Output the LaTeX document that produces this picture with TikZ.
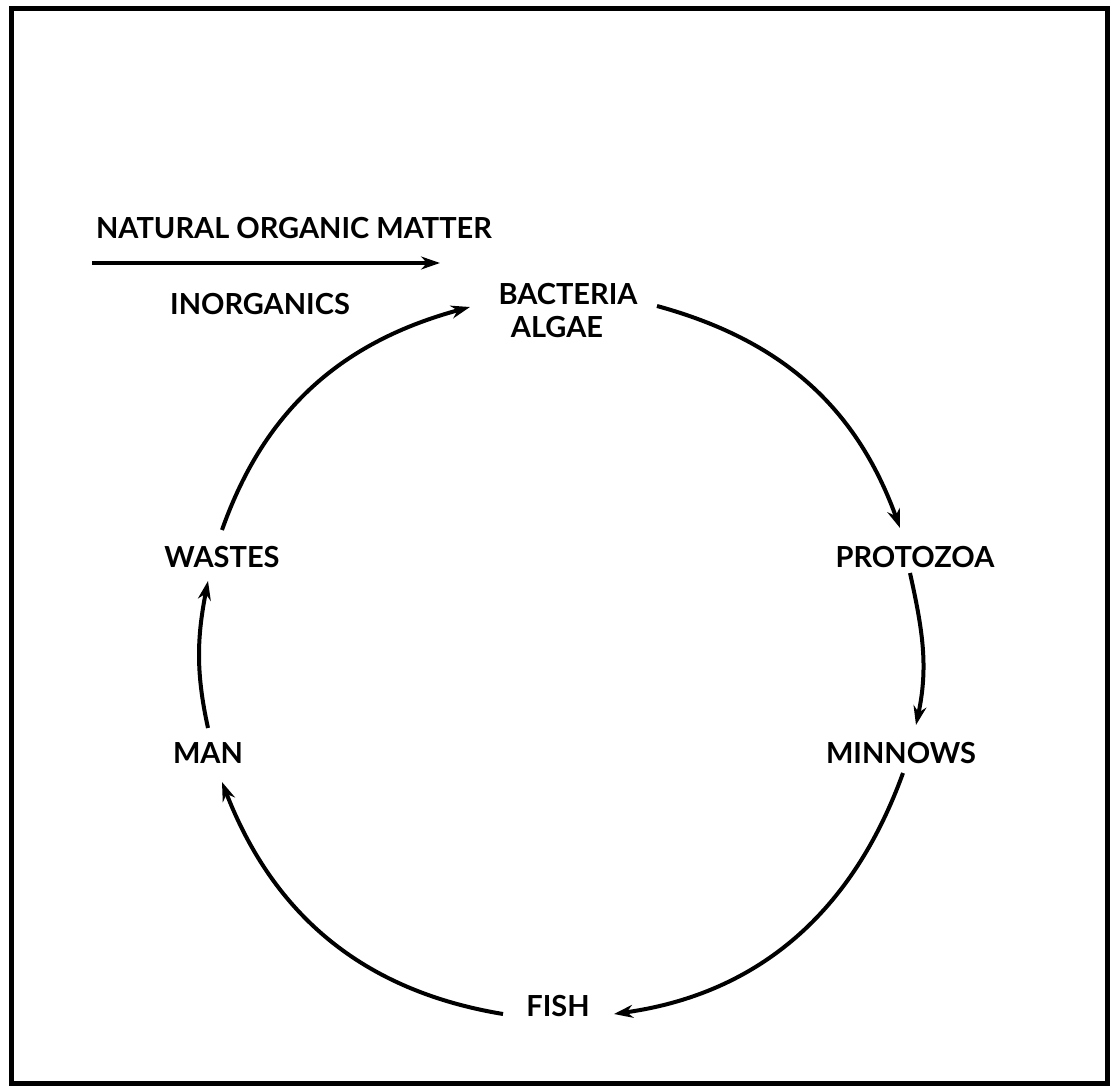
\documentclass[tikz,border=0pt]{standalone}
\usepackage{fontspec}
\setmainfont{Lato}
\usetikzlibrary{arrows.meta}
\begin{document}
\begin{tikzpicture}[x=1pt,y=-1pt,
  lbl/.style={inner sep=0pt,font=\fontsize{29}{33}\selectfont\bfseries},
  arr/.style={line width=4pt,-{Stealth[length=19pt,width=13pt]}},
  frame/.style={line width=5pt}]
\useasboundingbox (0,0) rectangle (1112,1086);
\draw[frame] (11,9) rectangle (1107,1083);
% labels
\node[lbl] (nom) at (294,228) {NATURAL ORGANIC MATTER};
\node[lbl] (inorg) at (260,304) {INORGANICS};
\node[lbl] (bact) at (568,294) {BACTERIA};
\node[lbl] (algae) at (557,327) {ALGAE};
\node[lbl] (proto) at (915,557) {PROTOZOA};
\node[lbl] (minn) at (901,753) {MINNOWS};
\node[lbl] (fish) at (558,1006) {FISH};
\node[lbl] (man) at (208,753) {MAN};
\node[lbl] (wastes) at (222,557) {WASTES};
% horizontal arrow
\coordinate (hs) at (92,263);
\coordinate (he) at (440,263);
\draw[arr] (hs) -- (he);
% cycle arcs
\draw[arr] ([shift={(0,-27)}]wastes.center) to[out=70.6,in=195.2] ([shift={(-98,13)}]bact.center);
\draw[arr] ([shift={(89,12)}]bact.center) to[out=-15.3,in=109.9] ([shift={(-15,-29)}]proto.center);
\draw[arr] ([shift={(-5,16)}]proto.center) to[out=-77.5,in=78] ([shift={(15,-28)}]minn.center);
\draw[arr] ([shift={(2,20)}]minn.center) to[out=-109.9,in=8] ([shift={(56,8)}]fish.center);
\draw[arr] ([shift={(-55,8)}]fish.center) to[out=170.6,in=-68.8] ([shift={(14,29)}]man.center);
\draw[arr] ([shift={(0,-25)}]man.center) to[out=102.4,in=259] ([shift={(-14,24)}]wastes.center);
\end{tikzpicture}
\end{document}
